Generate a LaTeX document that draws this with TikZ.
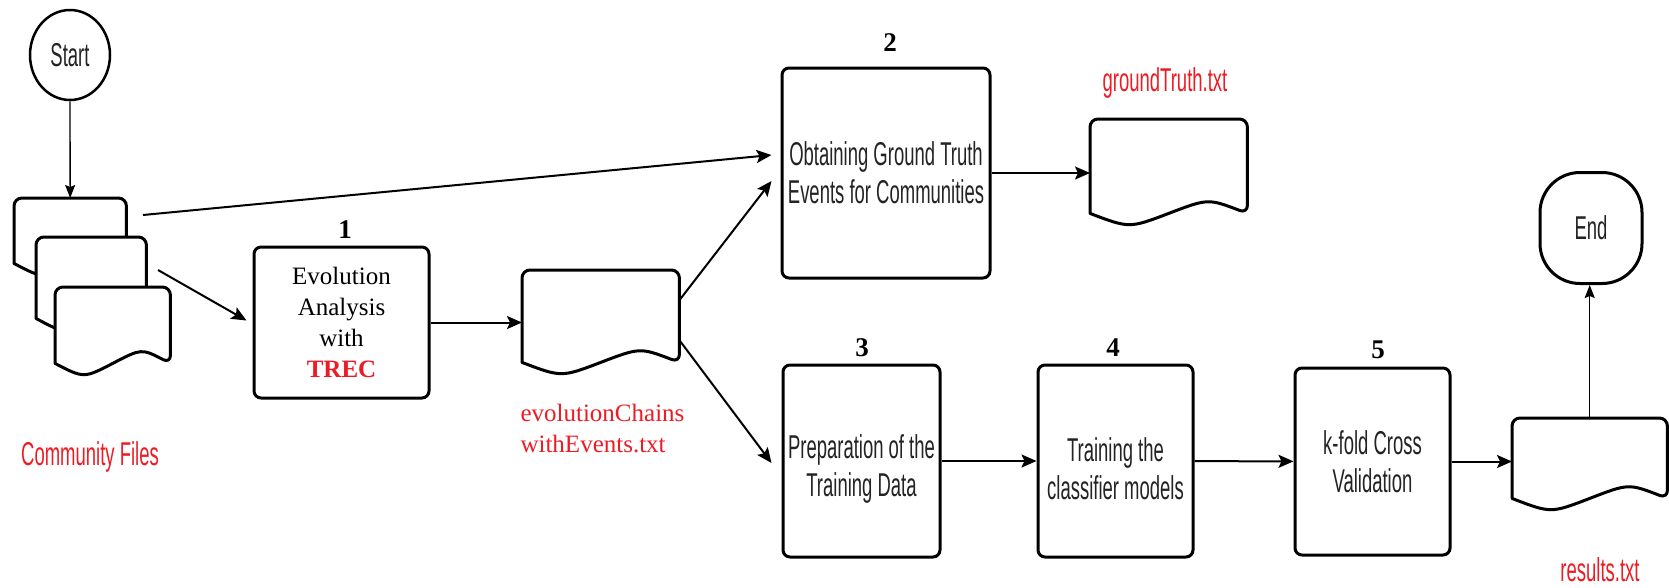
\documentclass[tikz,border=0pt]{standalone}
\usepackage{fontspec}
\setmainfont{Liberation Serif}
\newfontfamily\narrowsans[FakeStretch=0.56]{Liberation Sans}
\usetikzlibrary{arrows.meta,calc,shapes.geometric}
\definecolor{labelred}{RGB}{237,28,36}
\definecolor{inkgray}{RGB}{35,35,35}

\tikzset{
  procbox/.style={draw, line width=3pt, rounded corners=7pt, inner sep=0pt, align=center},
  sanstext/.style={font=\narrowsans\fontsize{33}{38}\selectfont, text=inkgray},
  serif/.style={font=\fontsize{25}{31}\selectfont},
  stepnum/.style={font=\bfseries\fontsize{27}{30}\selectfont},
  redlabel/.style={text=labelred},
  docnode/.style={draw=none, inner sep=0pt, anchor=north west},
  docline/.style={draw, line width=3pt, fill=white, line join=round},
  flow/.style={line width=2pt, -{Stealth[length=15pt,width=13pt,inset=3pt]}},
  thinflow/.style={line width=1.3pt, -{Stealth[length=13pt,width=10pt,inset=2pt]}},
}

% document symbol: rounded top, straight sides, wavy bottom
\newcommand\docoutline[1]{%
  \draw[docline] let \p1=(#1.north west), \p2=(#1.south east),
      \n1={0.25*(\x2-\x1)} in
    (\x1,\y2) [rounded corners=8pt] -- (\x1,\y1) -- (\x2,\y1) -- (\x2,\y2) [sharp corners]
    .. controls ({\x2-\n1},{\y2+15pt}) .. ({\x1+2*\n1},\y2)
    .. controls ({\x1+\n1},{\y2-15pt}) .. (\x1,\y2) -- cycle;}

% taller first line pushes a two-line caption a little lower in its box
\newcommand\lowstrut{\rule{0pt}{40pt}}

\begin{document}
\begin{tikzpicture}[x=1pt,y=-1pt]
\useasboundingbox (0,0) rectangle (1669,587);

% terminals
\node[draw, ellipse, line width=2.5pt, minimum width=80pt, minimum height=90pt,
      inner sep=0pt, sanstext] (start) at (70,55) {Start};
\node[draw, rectangle, rounded corners=40pt, line width=3pt, minimum width=102pt,
      minimum height=111pt, inner sep=0pt, sanstext] (endnode) at (1591,228) {End};

% stacked community files
\node[docnode, minimum width=112pt, minimum height=65pt] (d1) at (14,198) {};
\node[docnode, minimum width=110pt, minimum height=81pt] (d2) at (36,237) {};
\node[docnode, minimum width=115pt, minimum height=76pt] (d3) at (55,287) {};
\docoutline{d1}
\docoutline{d2}
\docoutline{d3}

% intermediate and result files
\node[docnode, minimum width=157pt, minimum height=92pt] (evo) at (522,270) {};
\node[docnode, minimum width=157pt, minimum height=94pt] (gt) at (1090,119) {};
\node[docnode, minimum width=155pt, minimum height=80pt] (res) at (1512,418) {};
\docoutline{evo}
\docoutline{gt}
\docoutline{res}

% process steps
\node[procbox, serif, minimum width=175pt, minimum height=151pt] (box1) at (341.5,322.5)
  {Evolution\\Analysis\\with\\\textcolor{labelred}{\bfseries TREC}};
\node[procbox, sanstext, minimum width=208pt, minimum height=210pt] (box2) at (886,173)
  {Obtaining Ground Truth\\Events for Communities};
\node[procbox, sanstext, minimum width=157pt, minimum height=192pt] (box3) at (861.5,461)
  {\lowstrut Preparation of the\\Training Data};
\node[procbox, sanstext, minimum width=155pt, minimum height=192pt] (box4) at (1115.5,461)
  {\lowstrut Training the\\classifier models};
\node[procbox, sanstext, minimum width=155pt, minimum height=187pt] (box5) at (1372.5,461.5)
  {k-fold Cross\\Validation};

% step numbers
\node[stepnum] (n1) at (345,230) {1};
\node[stepnum] (n2) at (890,43) {2};
\node[stepnum] (n3) at (862,348) {3};
\node[stepnum] (n4) at (1113,348) {4};
\node[stepnum] (n5) at (1378,350) {5};

% file names
\node[sanstext, redlabel] (lblcomm) at (90,457) {Community Files};
\node[serif, redlabel, align=left, anchor=west] (lblevo) at (517,428)
  {evolutionChains\\withEvents.txt};
\node[sanstext, redlabel] (lblgt) at (1165,83) {groundTruth.txt};
\node[sanstext, redlabel] (lblres) at (1600,570) {results.txt};

% connectors
\coordinate (srcA) at (143,215);
\coordinate (srcB) at (158,270);
\draw[thinflow] (start) -- (d1);
\draw[flow] (srcA) -- ($(box2.west)+(-9,-18)$);
\draw[flow] (srcB) -- ($(box1.west)+(-6,-2)$);
\draw[flow] (box1.east) -- (box1.east -| evo.west);
\draw[flow] ($(evo.east)+(0,-16)$) -- ($(box2.west)+(-9,8)$);
\draw[flow] ($(evo.east)+(0,24)$) -- ($(box3.west)+(-10,2)$);
\draw[flow] (box2.east) -- (box2.east -| gt.west);
\draw[flow] (box3) -- (box4);
\draw[flow] (box4) -- (box5);
\draw[flow] (box5.east) -- (box5.east -| res.west);
\draw[thinflow] (res.north) -- (res.north |- endnode.south);
\end{tikzpicture}
\end{document}
